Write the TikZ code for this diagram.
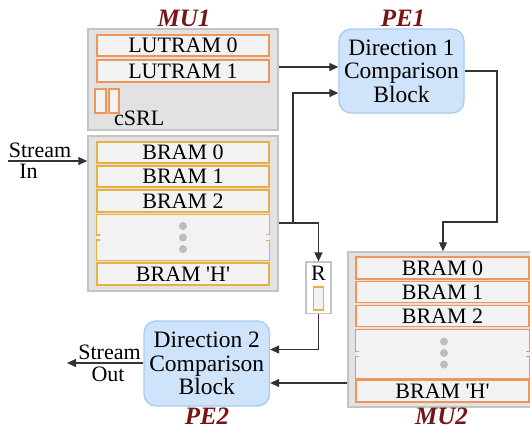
\documentclass[tikz,border=0pt]{standalone}
\usepackage{fontspec}
\setmainfont{Liberation Serif}
\usetikzlibrary{arrows.meta}
\definecolor{mufill}{HTML}{E2E2E2}
\definecolor{muline}{HTML}{C4C4C4}
\definecolor{cellfill}{HTML}{F2F2F2}
\definecolor{lutline}{HTML}{F0955A}
\definecolor{bramline}{HTML}{E8B040}
\definecolor{pefill}{HTML}{CFE3FB}
\definecolor{peline}{HTML}{A6CBF4}
\definecolor{labred}{HTML}{751515}
\definecolor{arrline}{HTML}{333333}
\definecolor{dotgray}{HTML}{BDBDBD}
\begin{document}
\begin{tikzpicture}[x=1pt,y=-1pt,
  mubox/.style={draw=muline,fill=mufill,line width=1.5pt,inner sep=0pt},
  cellbox/.style={fill=cellfill,line width=1.3pt,inner sep=0pt,minimum height=21pt,font=\fontsize{22}{22}\selectfont},
  pebox/.style={draw=peline,fill=pefill,line width=1.3pt,rounded corners=12pt,inner sep=0pt,align=center,font=\fontsize{23.5}{23.5}\selectfont},
  lab/.style={text=labred,font=\fontsize{25}{25}\selectfont\bfseries\itshape,inner sep=0pt},
  txt/.style={inner sep=0pt,font=\fontsize{22}{22}\selectfont},
  arr/.style={draw=arrline,line width=1.2pt,-{Triangle[length=9pt,width=8pt]}},
  dotc/.style={circle,fill=dotgray,inner sep=0pt,minimum size=8pt}
]
\useasboundingbox (0,0) rectangle (530,429);
% MU1 upper
\node[mubox,minimum width=190pt,minimum height=101pt] (mu1top) at (183,79.5) {};
\node[cellbox,draw=lutline,minimum width=172pt] (lut0) at (183,45.5) {LUTRAM 0};
\node[cellbox,draw=lutline,minimum width=172pt,minimum height=22pt] (lut1) at (183,71) {LUTRAM 1};
\node[draw=lutline,fill=cellfill,line width=1.3pt,minimum width=11pt,minimum height=24pt,inner sep=0pt] (srla) at (100.5,101) {};
\node[draw=lutline,fill=cellfill,line width=1.3pt,minimum width=10pt,minimum height=24pt,inner sep=0pt] (srlb) at (114,101) {};
\node[txt,anchor=base west] (csrl) at (114,125) {cSRL};
\node[lab] (mu1lab) at (184,18) {MU1};
% MU1 lower
\node[mubox,minimum width=190pt,minimum height=155pt] (mu1bot) at (183,213.5) {};
\node[cellbox,draw=bramline,minimum width=172pt] (b0) at (183,152.5) {BRAM 0};
\node[cellbox,draw=bramline,minimum width=172pt] (b1) at (183,176.5) {BRAM 1};
\node[cellbox,draw=bramline,minimum width=172pt,minimum height=22pt] (b2) at (183,201) {BRAM 2};
\node[fill=cellfill,minimum width=172pt,minimum height=45pt,inner sep=0pt] (bd) at (183,237.5) {};
\draw[bramline,line width=1.3pt] (bd.west) ++(3,-2.5) -- ++(-3,0) |- (bd.north east) -- ++(0,20) -- ++(-3,0);
\draw[bramline,line width=1.3pt] (bd.west) ++(3,2.5) -- ++(-3,0) |- (bd.south east) -- ++(0,-20) -- ++(-3,0);
\node[dotc] (d1) at (183,226) {};
\node[dotc] (d2) at (183,237.5) {};
\node[dotc] (d3) at (183,249) {};
\node[cellbox,draw=bramline,minimum width=172pt,minimum height=22pt] (bh) at (183,274) {BRAM \textquotesingle H\textquotesingle};
% MU2
\node[mubox,minimum width=183pt,minimum height=155pt] (mu2) at (439.5,329.5) {};
\node[cellbox,draw=lutline,minimum width=173pt,minimum height=22pt] (c0) at (442.5,268) {BRAM 0};
\node[cellbox,draw=lutline,minimum width=173pt] (c1) at (442.5,292) {BRAM 1};
\node[cellbox,draw=lutline,minimum width=173pt] (c2) at (442.5,316) {BRAM 2};
\node[fill=cellfill,minimum width=173pt,minimum height=48pt,inner sep=0pt] (cd) at (442.5,354) {};
\draw[lutline,line width=1.3pt] (cd.west) ++(3,-2.5) -- ++(-3,0) |- (cd.north east) -- ++(0,21.5) -- ++(-3,0);
\draw[lutline,line width=1.3pt] (cd.west) ++(3,2.5) -- ++(-3,0) |- (cd.south east) -- ++(0,-21.5) -- ++(-3,0);
\node[dotc] (e1) at (444,341.5) {};
\node[dotc] (e2) at (444,353) {};
\node[dotc] (e3) at (444,364.5) {};
\node[cellbox,draw=lutline,minimum width=173pt,minimum height=22pt] (ch) at (442.5,391) {BRAM \textquotesingle H\textquotesingle};
\node[lab] (mu2lab) at (441.5,416) {MU2};
% PEs
\node[pebox,minimum width=125pt,minimum height=84pt] (pe1) at (401.5,71) {Direction 1\\Comparison\\Block};
\node[lab] (pe1lab) at (403,18) {PE1};
\node[pebox,minimum width=125.5pt,minimum height=85pt] (pe2) at (206.75,363.5) {Direction 2\\Comparison\\Block};
\node[lab] (pe2lab) at (207,416) {PE2};
% R register
\node[draw=muline,fill=white,line width=1.2pt,minimum width=25pt,minimum height=51.5pt,inner sep=0pt] (rbox) at (318.5,287.75) {};
\node[txt] (rtxt) at (318.5,273) {R};
\node[draw=bramline,fill=cellfill,line width=1.3pt,minimum width=10pt,minimum height=23pt,inner sep=0pt] (rcell) at (318.5,298.5) {};
% stream labels
\node[txt] (sin1) at (40,150) {Stream};
\node[txt] (sin2) at (28.5,171) {In};
\node[txt] (sout1) at (109.5,352) {Stream};
\node[txt] (sout2) at (108,374) {Out};
\coordinate (sinstart) at (8,161);
\coordinate (soutend) at (67,363);
\coordinate (jn) at (293,223);
% connectors
\draw[arr] (sinstart) -- (mu1bot.west |- sinstart);
\draw[arr] (mu1top.east |- 0,67) -- (pe1.west |- 0,67);
\draw[arr] (mu1bot.east |- jn) -| (rbox.north);
\draw[arr] (jn) |- (pe1.west |- 0,93);
\draw[arr] (pe1.east) -| (497,222) -| (mu2.north -| 443,0);
\draw[arr] (rbox.south) |- (pe2.east |- 0,349.5);
\draw[arr] (mu2.west |- 0,383) -- (pe2.east |- 0,383);
\draw[arr] (pe2.west |- soutend) -- (soutend);
\end{tikzpicture}
\end{document}
